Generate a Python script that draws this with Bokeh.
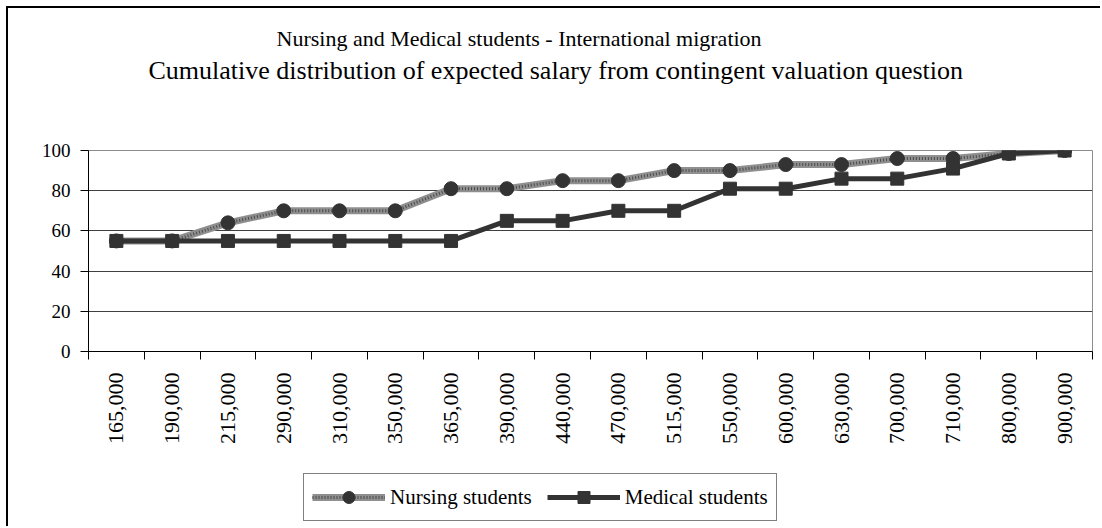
import math
from bokeh.plotting import figure
from bokeh.layouts import column
from bokeh.models import (ColumnDataSource, FixedTicker, Range1d, Title, Legend, LegendItem)
from bokeh.embed import file_html
from bokeh.resources import INLINE

# ---- data ----
salaries = ["165,000", "190,000", "215,000", "290,000", "310,000", "350,000", "365,000",
            "390,000", "440,000", "470,000", "515,000", "550,000", "600,000", "630,000",
            "700,000", "710,000", "800,000", "900,000"]
nursing = [55, 55, 64, 70, 70, 70, 81, 81, 85, 85, 90, 90, 93, 93, 96, 96, 98.5, 100]
medical = [55, 55, 55, 55, 55, 55, 55, 65, 65, 70, 70, 81, 81, 86, 86, 91, 98.5, 100]
y_ticks = [0, 20, 40, 60, 80, 100]
series_names = ["Nursing students", "Medical students"]
title1 = "Nursing and Medical students - International migration"
title2 = "Cumulative distribution of expected salary from contingent valuation question"

FONT = "Liberation Serif"
n = len(salaries)
centers = [i + 0.5 for i in range(n)]
bounds = list(range(n + 1))

src = ColumnDataSource(dict(x=centers, nursing=nursing, medical=medical, label=salaries))

p = figure(width=1092, height=450, output_backend="svg", toolbar_location=None,
           x_range=Range1d(0, n), y_range=Range1d(0, 100),
           min_border_left=80, min_border_right=8, min_border_top=142, min_border_bottom=107)

p.outline_line_color = "#8c8c8c"
p.background_fill_color = "white"
p.border_fill_color = "white"

# titles (spacer closest to the frame, then line 2, then line 1)
spacer = Title(text=" ", text_font=FONT, text_font_size="22px", standoff=36)
t2 = Title(text=title2, align="left", offset=60, vertical_align="middle", text_font=FONT,
           text_font_size="26px", text_font_style="normal", text_color="black", standoff=3)
t1 = Title(text=title1, align="left", offset=188, vertical_align="middle", text_font=FONT,
           text_font_size="22px", text_font_style="normal", text_color="black", standoff=3)
p.add_layout(spacer, "above")
p.add_layout(t2, "above")
p.add_layout(t1, "above")

# y axis
p.yaxis.ticker = FixedTicker(ticks=y_ticks)
p.yaxis.axis_line_color = "black"
p.yaxis.major_tick_line_color = "black"
p.yaxis.major_tick_out = 8
p.yaxis.major_tick_in = 0
p.yaxis.minor_tick_line_color = None
p.yaxis.major_label_text_font = FONT
p.yaxis.major_label_text_font_size = "19px"
p.yaxis.major_label_text_color = "black"
p.yaxis.major_label_standoff = 10

# x axis: labels at category centres, tick marks at category boundaries
p.xaxis.ticker = FixedTicker(ticks=centers, minor_ticks=bounds)
p.xaxis.major_label_overrides = {c: s for c, s in zip(centers, salaries)}
p.xaxis.major_tick_out = 0
p.xaxis.major_tick_in = 0
p.xaxis.minor_tick_out = 8
p.xaxis.minor_tick_in = 0
p.xaxis.minor_tick_line_color = "black"
p.xaxis.axis_line_color = "black"
p.xaxis.major_label_orientation = math.pi / 2
p.xaxis.major_label_text_font = FONT
p.xaxis.major_label_text_font_size = "22px"
p.xaxis.major_label_text_color = "black"
p.xaxis.major_label_standoff = 13

# grid
p.xgrid.grid_line_color = None
p.ygrid.ticker = FixedTicker(ticks=y_ticks)
p.ygrid.grid_line_color = "#404040"
p.ygrid.grid_line_width = 1

NURSE_BASE = dict(line_color="#8f8f8f", line_width=7)
NURSE_OVER = dict(line_color="#4a4a4a", line_width=3, line_dash="1 2")
NURSE_MARK = dict(marker="circle", size=14, fill_color="#333333", line_color="#333333")
MED_LINE = dict(line_color="#333333", line_width=5)
MED_MARK = dict(marker="square", size=13, fill_color="#333333", line_color="#333333")

# series
p.line("x", "nursing", source=src, **NURSE_BASE)
p.line("x", "nursing", source=src, **NURSE_OVER)
p.scatter("x", "nursing", source=src, **NURSE_MARK)
p.line("x", "medical", source=src, **MED_LINE)
p.scatter("x", "medical", source=src, **MED_MARK)

# legend strip: a separate figure whose frame covers the strip; its renderers
# share the data source but lie outside its tiny ranges, so only the legend shows
lg = figure(width=1092, height=68, output_backend="svg", toolbar_location=None,
            x_range=Range1d(0, 1e-6), y_range=Range1d(0, 1e-6),
            x_axis_type=None, y_axis_type=None,
            min_border_left=0, min_border_right=0, min_border_top=0, min_border_bottom=0)
lg.outline_line_color = None
lg.grid.grid_line_color = None
lg.background_fill_color = "white"
lg.border_fill_color = "white"
r1 = lg.line("x", "nursing", source=src, **NURSE_BASE)
r2 = lg.line("x", "nursing", source=src, **NURSE_OVER)
r3 = lg.scatter("x", "nursing", source=src, **NURSE_MARK)
r4 = lg.line("x", "medical", source=src, **MED_LINE)
r5 = lg.scatter("x", "medical", source=src, **MED_MARK)

legend = Legend(items=[LegendItem(label=series_names[0], renderers=[r1, r2, r3]),
                       LegendItem(label=series_names[1], renderers=[r4, r5])],
                orientation="horizontal", location=(215, 5))
legend.label_text_font = FONT
legend.label_text_font_size = "21px"
legend.label_text_color = "black"
legend.border_line_color = "black"
legend.border_line_width = 1
legend.background_fill_alpha = 1
legend.glyph_width = 73
legend.glyph_height = 30
legend.label_standoff = 5
legend.spacing = 15
legend.padding = 8
legend.margin = 0
lg.add_layout(legend, "center")

layout = column(p, lg, spacing=0,
                styles={"border-top": "2px solid black", "border-left": "2px solid black",
                        "margin-left": "6px", "margin-top": "6px"})

open("out.html", "w").write(file_html(layout, INLINE))
